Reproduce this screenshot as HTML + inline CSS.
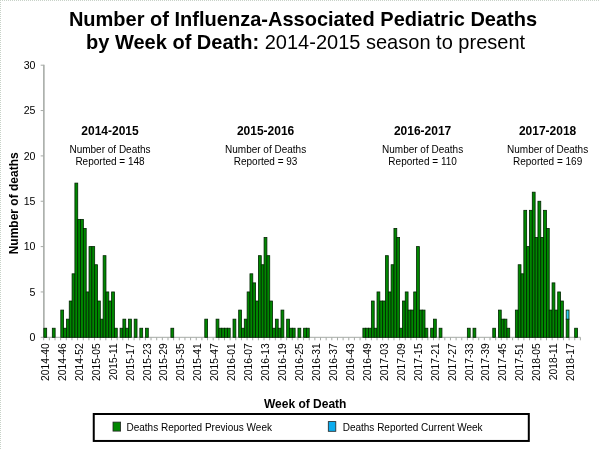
<!DOCTYPE html>
<html><head><meta charset="utf-8"><title>Pediatric Deaths</title>
<style>
html,body{margin:0;padding:0;background:#fff;}
body{width:600px;height:450px;overflow:hidden;font-family:"Liberation Sans",sans-serif;}
svg{display:block;will-change:transform;font-family:"Liberation Sans",sans-serif;}
</style></head><body>
<svg width="600" height="450" viewBox="0 0 600 450">
<rect x="0" y="0" width="600" height="450" fill="#ffffff"/>
<path d="M0.5 0V450M0 0.5H600" fill="none" stroke="#c8d2c8" stroke-width="1" stroke-dasharray="1 1" shape-rendering="crispEdges"/>
<text x="68.9" y="25.8" font-size="20.03" font-weight="bold" fill="#000">Number of Influenza-Associated Pediatric Deaths</text>
<text x="86" y="49.2" font-size="20.03" fill="#000"><tspan font-weight="bold">by Week of Death:</tspan> 2014-2015 season to present</text>
<g stroke="#a6aaa6" stroke-width="1" fill="none">
<path d="M43.9 64.7V337.8" stroke="#868c86" stroke-width="1.15"/>
<path d="M40.7 337.30H43.7"/>
<path d="M40.7 291.95H43.7"/>
<path d="M40.7 246.60H43.7"/>
<path d="M40.7 201.25H43.7"/>
<path d="M40.7 155.90H43.7"/>
<path d="M40.7 110.55H43.7"/>
<path d="M40.7 65.20H43.7"/>
<path d="M43.7 337.3H580.4"/>
<path d="M43.70 337.3V340.3"/>
<path d="M49.35 337.3V340.3"/>
<path d="M55.00 337.3V340.3"/>
<path d="M60.65 337.3V340.3"/>
<path d="M66.30 337.3V340.3"/>
<path d="M71.95 337.3V340.3"/>
<path d="M77.60 337.3V340.3"/>
<path d="M83.25 337.3V340.3"/>
<path d="M88.90 337.3V340.3"/>
<path d="M94.55 337.3V340.3"/>
<path d="M100.19 337.3V340.3"/>
<path d="M105.84 337.3V340.3"/>
<path d="M111.49 337.3V340.3"/>
<path d="M117.14 337.3V340.3"/>
<path d="M122.79 337.3V340.3"/>
<path d="M128.44 337.3V340.3"/>
<path d="M134.09 337.3V340.3"/>
<path d="M139.74 337.3V340.3"/>
<path d="M145.39 337.3V340.3"/>
<path d="M151.04 337.3V340.3"/>
<path d="M156.69 337.3V340.3"/>
<path d="M162.34 337.3V340.3"/>
<path d="M167.99 337.3V340.3"/>
<path d="M173.64 337.3V340.3"/>
<path d="M179.29 337.3V340.3"/>
<path d="M184.94 337.3V340.3"/>
<path d="M190.59 337.3V340.3"/>
<path d="M196.24 337.3V340.3"/>
<path d="M201.89 337.3V340.3"/>
<path d="M207.53 337.3V340.3"/>
<path d="M213.18 337.3V340.3"/>
<path d="M218.83 337.3V340.3"/>
<path d="M224.48 337.3V340.3"/>
<path d="M230.13 337.3V340.3"/>
<path d="M235.78 337.3V340.3"/>
<path d="M241.43 337.3V340.3"/>
<path d="M247.08 337.3V340.3"/>
<path d="M252.73 337.3V340.3"/>
<path d="M258.38 337.3V340.3"/>
<path d="M264.03 337.3V340.3"/>
<path d="M269.68 337.3V340.3"/>
<path d="M275.33 337.3V340.3"/>
<path d="M280.98 337.3V340.3"/>
<path d="M286.63 337.3V340.3"/>
<path d="M292.28 337.3V340.3"/>
<path d="M297.93 337.3V340.3"/>
<path d="M303.58 337.3V340.3"/>
<path d="M309.23 337.3V340.3"/>
<path d="M314.87 337.3V340.3"/>
<path d="M320.52 337.3V340.3"/>
<path d="M326.17 337.3V340.3"/>
<path d="M331.82 337.3V340.3"/>
<path d="M337.47 337.3V340.3"/>
<path d="M343.12 337.3V340.3"/>
<path d="M348.77 337.3V340.3"/>
<path d="M354.42 337.3V340.3"/>
<path d="M360.07 337.3V340.3"/>
<path d="M365.72 337.3V340.3"/>
<path d="M371.37 337.3V340.3"/>
<path d="M377.02 337.3V340.3"/>
<path d="M382.67 337.3V340.3"/>
<path d="M388.32 337.3V340.3"/>
<path d="M393.97 337.3V340.3"/>
<path d="M399.62 337.3V340.3"/>
<path d="M405.27 337.3V340.3"/>
<path d="M410.92 337.3V340.3"/>
<path d="M416.57 337.3V340.3"/>
<path d="M422.21 337.3V340.3"/>
<path d="M427.86 337.3V340.3"/>
<path d="M433.51 337.3V340.3"/>
<path d="M439.16 337.3V340.3"/>
<path d="M444.81 337.3V340.3"/>
<path d="M450.46 337.3V340.3"/>
<path d="M456.11 337.3V340.3"/>
<path d="M461.76 337.3V340.3"/>
<path d="M467.41 337.3V340.3"/>
<path d="M473.06 337.3V340.3"/>
<path d="M478.71 337.3V340.3"/>
<path d="M484.36 337.3V340.3"/>
<path d="M490.01 337.3V340.3"/>
<path d="M495.66 337.3V340.3"/>
<path d="M501.31 337.3V340.3"/>
<path d="M506.96 337.3V340.3"/>
<path d="M512.61 337.3V340.3"/>
<path d="M518.26 337.3V340.3"/>
<path d="M523.91 337.3V340.3"/>
<path d="M529.55 337.3V340.3"/>
<path d="M535.20 337.3V340.3"/>
<path d="M540.85 337.3V340.3"/>
<path d="M546.50 337.3V340.3"/>
<path d="M552.15 337.3V340.3"/>
<path d="M557.80 337.3V340.3"/>
<path d="M563.45 337.3V340.3"/>
<path d="M569.10 337.3V340.3"/>
<path d="M574.75 337.3V340.3"/>
<path d="M580.40 337.3V340.3"/>
</g>
<g font-size="10.6" fill="#000" text-anchor="end">
<text x="35.5" y="341.1">0</text>
<text x="35.5" y="295.8">5</text>
<text x="35.5" y="250.4">10</text>
<text x="35.5" y="205.1">15</text>
<text x="35.5" y="159.7">20</text>
<text x="35.5" y="114.4">25</text>
<text x="35.5" y="69.0">30</text>
</g>
<g fill="#008800" stroke="#002400" stroke-width="0.8">
<rect x="43.85" y="328.23" width="2.82" height="9.07"/>
<rect x="52.32" y="328.23" width="2.82" height="9.07"/>
<rect x="60.79" y="310.09" width="2.82" height="27.21"/>
<rect x="63.61" y="328.23" width="2.82" height="9.07"/>
<rect x="66.44" y="319.16" width="2.82" height="18.14"/>
<rect x="69.26" y="301.02" width="2.82" height="36.28"/>
<rect x="72.08" y="273.81" width="2.82" height="63.49"/>
<rect x="74.91" y="183.11" width="2.82" height="154.19"/>
<rect x="77.73" y="219.39" width="2.82" height="117.91"/>
<rect x="80.55" y="219.39" width="2.82" height="117.91"/>
<rect x="83.38" y="228.46" width="2.82" height="108.84"/>
<rect x="86.20" y="291.95" width="2.82" height="45.35"/>
<rect x="89.02" y="246.60" width="2.82" height="90.70"/>
<rect x="91.85" y="246.60" width="2.82" height="90.70"/>
<rect x="94.67" y="264.74" width="2.82" height="72.56"/>
<rect x="97.50" y="301.02" width="2.82" height="36.28"/>
<rect x="100.32" y="319.16" width="2.82" height="18.14"/>
<rect x="103.14" y="255.67" width="2.82" height="81.63"/>
<rect x="105.97" y="291.95" width="2.82" height="45.35"/>
<rect x="108.79" y="301.02" width="2.82" height="36.28"/>
<rect x="111.61" y="291.95" width="2.82" height="45.35"/>
<rect x="114.44" y="328.23" width="2.82" height="9.07"/>
<rect x="120.08" y="328.23" width="2.82" height="9.07"/>
<rect x="122.91" y="319.16" width="2.82" height="18.14"/>
<rect x="125.73" y="328.23" width="2.82" height="9.07"/>
<rect x="128.55" y="319.16" width="2.82" height="18.14"/>
<rect x="134.20" y="319.16" width="2.82" height="18.14"/>
<rect x="139.85" y="328.23" width="2.82" height="9.07"/>
<rect x="145.49" y="328.23" width="2.82" height="9.07"/>
<rect x="170.90" y="328.23" width="2.82" height="9.07"/>
<rect x="204.78" y="319.16" width="2.82" height="18.14"/>
<rect x="216.08" y="319.16" width="2.82" height="18.14"/>
<rect x="218.90" y="328.23" width="2.82" height="9.07"/>
<rect x="221.73" y="328.23" width="2.82" height="9.07"/>
<rect x="224.55" y="328.23" width="2.82" height="9.07"/>
<rect x="227.37" y="328.23" width="2.82" height="9.07"/>
<rect x="233.02" y="319.16" width="2.82" height="18.14"/>
<rect x="238.67" y="310.09" width="2.82" height="27.21"/>
<rect x="241.49" y="328.23" width="2.82" height="9.07"/>
<rect x="244.31" y="319.16" width="2.82" height="18.14"/>
<rect x="247.14" y="291.95" width="2.82" height="45.35"/>
<rect x="249.96" y="273.81" width="2.82" height="63.49"/>
<rect x="252.78" y="282.88" width="2.82" height="54.42"/>
<rect x="255.61" y="301.02" width="2.82" height="36.28"/>
<rect x="258.43" y="255.67" width="2.82" height="81.63"/>
<rect x="261.25" y="264.74" width="2.82" height="72.56"/>
<rect x="264.08" y="237.53" width="2.82" height="99.77"/>
<rect x="266.90" y="255.67" width="2.82" height="81.63"/>
<rect x="269.72" y="301.02" width="2.82" height="36.28"/>
<rect x="272.55" y="328.23" width="2.82" height="9.07"/>
<rect x="275.37" y="319.16" width="2.82" height="18.14"/>
<rect x="278.19" y="328.23" width="2.82" height="9.07"/>
<rect x="281.02" y="310.09" width="2.82" height="27.21"/>
<rect x="286.66" y="319.16" width="2.82" height="18.14"/>
<rect x="289.49" y="328.23" width="2.82" height="9.07"/>
<rect x="292.31" y="328.23" width="2.82" height="9.07"/>
<rect x="297.96" y="328.23" width="2.82" height="9.07"/>
<rect x="303.60" y="328.23" width="2.82" height="9.07"/>
<rect x="306.43" y="328.23" width="2.82" height="9.07"/>
<rect x="362.90" y="328.23" width="2.82" height="9.07"/>
<rect x="365.72" y="328.23" width="2.82" height="9.07"/>
<rect x="368.54" y="328.23" width="2.82" height="9.07"/>
<rect x="371.37" y="301.02" width="2.82" height="36.28"/>
<rect x="374.19" y="328.23" width="2.82" height="9.07"/>
<rect x="377.01" y="291.95" width="2.82" height="45.35"/>
<rect x="379.84" y="301.02" width="2.82" height="36.28"/>
<rect x="382.66" y="301.02" width="2.82" height="36.28"/>
<rect x="385.48" y="255.67" width="2.82" height="81.63"/>
<rect x="388.31" y="291.95" width="2.82" height="45.35"/>
<rect x="391.13" y="264.74" width="2.82" height="72.56"/>
<rect x="393.95" y="228.46" width="2.82" height="108.84"/>
<rect x="396.78" y="237.53" width="2.82" height="99.77"/>
<rect x="399.60" y="328.23" width="2.82" height="9.07"/>
<rect x="402.42" y="301.02" width="2.82" height="36.28"/>
<rect x="405.25" y="291.95" width="2.82" height="45.35"/>
<rect x="408.07" y="310.09" width="2.82" height="27.21"/>
<rect x="410.89" y="310.09" width="2.82" height="27.21"/>
<rect x="413.72" y="291.95" width="2.82" height="45.35"/>
<rect x="416.54" y="246.60" width="2.82" height="90.70"/>
<rect x="419.36" y="310.09" width="2.82" height="27.21"/>
<rect x="422.19" y="310.09" width="2.82" height="27.21"/>
<rect x="425.01" y="328.23" width="2.82" height="9.07"/>
<rect x="430.66" y="328.23" width="2.82" height="9.07"/>
<rect x="433.48" y="319.16" width="2.82" height="18.14"/>
<rect x="439.13" y="328.23" width="2.82" height="9.07"/>
<rect x="467.36" y="328.23" width="2.82" height="9.07"/>
<rect x="473.01" y="328.23" width="2.82" height="9.07"/>
<rect x="492.77" y="328.23" width="2.82" height="9.07"/>
<rect x="498.42" y="310.09" width="2.82" height="27.21"/>
<rect x="501.24" y="319.16" width="2.82" height="18.14"/>
<rect x="504.07" y="319.16" width="2.82" height="18.14"/>
<rect x="506.89" y="328.23" width="2.82" height="9.07"/>
<rect x="515.36" y="310.09" width="2.82" height="27.21"/>
<rect x="518.18" y="264.74" width="2.82" height="72.56"/>
<rect x="521.01" y="273.81" width="2.82" height="63.49"/>
<rect x="523.83" y="210.32" width="2.82" height="126.98"/>
<rect x="526.65" y="246.60" width="2.82" height="90.70"/>
<rect x="529.48" y="210.32" width="2.82" height="126.98"/>
<rect x="532.30" y="192.18" width="2.82" height="145.12"/>
<rect x="535.13" y="237.53" width="2.82" height="99.77"/>
<rect x="537.95" y="201.25" width="2.82" height="136.05"/>
<rect x="540.77" y="237.53" width="2.82" height="99.77"/>
<rect x="543.60" y="210.32" width="2.82" height="126.98"/>
<rect x="546.42" y="228.46" width="2.82" height="108.84"/>
<rect x="549.24" y="310.09" width="2.82" height="27.21"/>
<rect x="552.07" y="282.88" width="2.82" height="54.42"/>
<rect x="554.89" y="310.09" width="2.82" height="27.21"/>
<rect x="557.71" y="291.95" width="2.82" height="45.35"/>
<rect x="560.54" y="301.02" width="2.82" height="36.28"/>
<rect x="566.18" y="319.16" width="2.82" height="18.14"/>
<rect x="574.65" y="328.23" width="2.82" height="9.07"/>
</g>
<g fill="#2cd0f2" stroke="#002400" stroke-width="0.8">
<rect x="566.18" y="310.09" width="2.82" height="9.07"/>
</g>
<g font-size="10.3" fill="#000" text-anchor="end">
<text transform="translate(48.81,343.2) rotate(-90)">2014-40</text>
<text transform="translate(65.76,343.2) rotate(-90)">2014-46</text>
<text transform="translate(82.71,343.2) rotate(-90)">2014-52</text>
<text transform="translate(99.66,343.2) rotate(-90)">2015-05</text>
<text transform="translate(116.61,343.2) rotate(-90)">2015-11</text>
<text transform="translate(133.55,343.2) rotate(-90)">2015-17</text>
<text transform="translate(150.50,343.2) rotate(-90)">2015-23</text>
<text transform="translate(167.45,343.2) rotate(-90)">2015-29</text>
<text transform="translate(184.40,343.2) rotate(-90)">2015-35</text>
<text transform="translate(201.35,343.2) rotate(-90)">2015-41</text>
<text transform="translate(218.30,343.2) rotate(-90)">2015-47</text>
<text transform="translate(235.25,343.2) rotate(-90)">2016-01</text>
<text transform="translate(252.19,343.2) rotate(-90)">2016-07</text>
<text transform="translate(269.14,343.2) rotate(-90)">2016-13</text>
<text transform="translate(286.09,343.2) rotate(-90)">2016-19</text>
<text transform="translate(303.04,343.2) rotate(-90)">2016-25</text>
<text transform="translate(319.99,343.2) rotate(-90)">2016-31</text>
<text transform="translate(336.94,343.2) rotate(-90)">2016-37</text>
<text transform="translate(353.88,343.2) rotate(-90)">2016-43</text>
<text transform="translate(370.83,343.2) rotate(-90)">2016-49</text>
<text transform="translate(387.78,343.2) rotate(-90)">2017-03</text>
<text transform="translate(404.73,343.2) rotate(-90)">2017-09</text>
<text transform="translate(421.68,343.2) rotate(-90)">2017-15</text>
<text transform="translate(438.63,343.2) rotate(-90)">2017-21</text>
<text transform="translate(455.57,343.2) rotate(-90)">2017-27</text>
<text transform="translate(472.52,343.2) rotate(-90)">2017-33</text>
<text transform="translate(489.47,343.2) rotate(-90)">2017-39</text>
<text transform="translate(506.42,343.2) rotate(-90)">2017-45</text>
<text transform="translate(523.37,343.2) rotate(-90)">2017-51</text>
<text transform="translate(540.32,343.2) rotate(-90)">2018-05</text>
<text transform="translate(557.26,343.2) rotate(-90)">2018-11</text>
<text transform="translate(574.21,343.2) rotate(-90)">2018-17</text>
</g>
<text transform="translate(18.3,203.3) rotate(-90)" text-anchor="middle" font-size="12" font-weight="bold">Number of deaths</text>
<text x="305.2" y="408" text-anchor="middle" font-size="12" font-weight="bold">Week of Death</text>
<text x="110.0" y="134.7" text-anchor="middle" font-size="12" font-weight="bold">2014-2015</text>
<text x="110.0" y="153" text-anchor="middle" font-size="10">Number of Deaths</text>
<text x="110.0" y="165" text-anchor="middle" font-size="10">Reported = 148</text>
<text x="265.6" y="134.7" text-anchor="middle" font-size="12" font-weight="bold">2015-2016</text>
<text x="265.6" y="153" text-anchor="middle" font-size="10">Number of Deaths</text>
<text x="265.6" y="165" text-anchor="middle" font-size="10">Reported = 93</text>
<text x="422.6" y="134.7" text-anchor="middle" font-size="12" font-weight="bold">2016-2017</text>
<text x="422.6" y="153" text-anchor="middle" font-size="10">Number of Deaths</text>
<text x="422.6" y="165" text-anchor="middle" font-size="10">Reported = 110</text>
<text x="547.6" y="134.7" text-anchor="middle" font-size="12" font-weight="bold">2017-2018</text>
<text x="547.6" y="153" text-anchor="middle" font-size="10">Number of Deaths</text>
<text x="547.6" y="165" text-anchor="middle" font-size="10">Reported = 169</text>
<rect x="93.75" y="414" width="435.05" height="26.95" fill="#fff" stroke="#000" stroke-width="2"/>
<rect x="113" y="422.1" width="7.6" height="9" fill="#008600" stroke="#222" stroke-width="0.8"/>
<text x="126.5" y="431.2" font-size="10">Deaths Reported Previous Week</text>
<rect x="328.3" y="421.6" width="7.5" height="9.7" fill="#0cacee" stroke="#222" stroke-width="0.8"/>
<text x="342.7" y="431.2" font-size="10">Deaths Reported Current Week</text>
</svg>
</body></html>
